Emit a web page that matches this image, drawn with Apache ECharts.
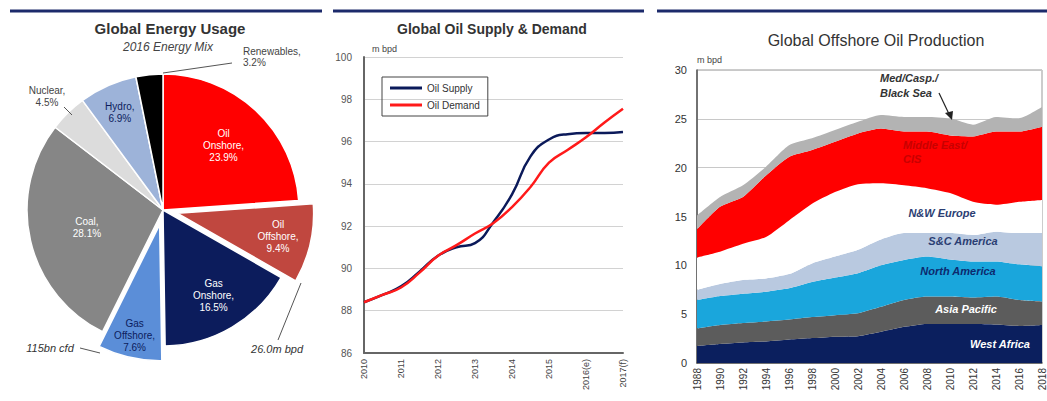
<!DOCTYPE html>
<html><head><meta charset="utf-8">
<script src="https://cdn.jsdelivr.net/npm/echarts@6/dist/echarts.min.js"></script>
<style>html,body{margin:0;padding:0;background:#fff}#c{width:1047px;height:401px}</style>
</head><body><div id="c"></div>
<script>
// ---------- Panel 1: Global Energy Usage (2016 energy mix, %) ----------
const mixNames  = ['Oil\nOnshore', 'Oil\nOffshore', 'Gas\nOnshore', 'Gas\nOffshore', 'Coal', 'Nuclear', 'Hydro', 'Renewables'];
const mixValues = [23.9, 9.4, 16.5, 7.6, 28.1, 4.5, 6.9, 3.2];
const mixExploded = ['Oil\nOffshore', 'Gas\nOffshore'];
const oilOffshoreNote = '26.0m bpd';
const gasOffshoreNote = '115bn cfd';

// ---------- Panel 2: Global Oil Supply & Demand (m bpd) ----------
const sdTickLabels = ['2010', '2011', '2012', '2013', '2014', '2015', '2016(e)', '2017(f)'];
const sdYears  = [2010, 2010.5, 2011, 2011.5, 2012, 2012.5, 2013, 2013.5, 2014, 2014.5, 2015, 2015.5, 2016, 2016.5, 2017];
const oilSupply = [88.4, 88.75, 89.15, 89.85, 90.6, 91.0, 91.2, 92.2, 93.5, 95.3, 96.1, 96.35, 96.4, 96.4, 96.45];
const oilDemand = [88.4, 88.75, 89.1, 89.8, 90.6, 91.1, 91.65, 92.15, 92.9, 93.85, 95.0, 95.6, 96.2, 96.9, 97.55];

// ---------- Panel 3: Global Offshore Oil Production (m bpd, stacked) ----------
const offYears = ['1988', '1990', '1992', '1994', '1996', '1998', '2000', '2002', '2004', '2006', '2008', '2010', '2012', '2014', '2016', '2018'];
const westAfrica   = [1.75, 1.95, 2.1, 2.2, 2.4, 2.55, 2.7, 2.75, 3.2, 3.7, 4.0, 4.0, 4.0, 3.95, 3.8, 3.9];
const asiaPacific  = [1.8, 1.95, 2.0, 2.05, 2.05, 2.15, 2.2, 2.35, 2.55, 2.75, 2.8, 2.8, 2.7, 2.85, 2.65, 2.4];
const northAmerica = [2.9, 2.95, 3.0, 3.05, 3.2, 3.6, 3.85, 4.1, 4.25, 4.1, 4.1, 3.8, 3.7, 3.6, 3.65, 3.6];
const scAmerica    = [1.05, 1.25, 1.4, 1.35, 1.45, 1.9, 2.15, 2.4, 2.65, 2.75, 2.4, 2.7, 2.7, 3.05, 3.2, 3.4];
const nwEurope     = [3.3, 3.3, 3.7, 4.25, 5.5, 6.1, 6.6, 6.7, 5.75, 4.9, 4.6, 4.1, 3.4, 2.75, 3.2, 3.4];
const middleEastCIS= [2.9, 4.6, 4.8, 6.3, 6.5, 5.5, 5.15, 5.2, 5.6, 5.5, 5.8, 5.9, 6.7, 7.5, 7.2, 7.5];
const medCaspBlack = [1.4, 1.0, 1.2, 0.9, 1.2, 1.2, 1.2, 1.2, 1.4, 1.5, 1.5, 1.75, 1.2, 1.5, 1.35, 2.0];
const offNames = ['West Africa', 'Asia Pacific', 'North America', 'S&C America', 'N&W Europe', 'Middle East/\nCIS', 'Med/Casp./\nBlack Sea'];

// ---------- styles ----------
const FONT = '"Liberation Sans", Arial, sans-serif';
const mixColors = ['#ff0000', '#c0473f', '#0c1c5c', '#5b8ed8', '#868686', '#dcdcdc', '#9db3d9', '#000000'];
const mixLabelColors = ['#fff', '#fff', '#fff', '#0c1c5c', '#fff', '#444', '#0c1c5c', '#000'];
const mixLabelPush = [1.25, 1.45, 1.4, 1.6, 1.1, 1, 1.5, 1];
const mixInsideLabel = [true, true, true, true, true, false, true, false];
const PIE_C = [163, 210], PIE_R = 136;
const offColors = ['#0b1f5e', '#5c5c5c', '#1aa6dc', '#b9c9e0', '#ffffff', '#ff0000', '#b3b3b3'];

const chart = echarts.init(document.getElementById('c'), null, {renderer: 'svg'});

const pieData = mixNames.map((n, i) => ({
  name: n, value: mixValues[i],
  selected: mixExploded.includes(n),
  itemStyle: {color: mixColors[i]},
  label: {show: mixInsideLabel[i], color: mixLabelColors[i]}
}));

function pair(xs, ys) { return xs.map((x, i) => [x, ys[i]]); }
const offSeriesData = [westAfrica, asiaPacific, northAmerica, scAmerica, nwEurope, middleEastCIS, medCaspBlack];

const txt = (x, y, text, opt) => ({type: 'text', x, y, z: 100, silent: true, style: Object.assign({
  text, fill: '#333', font: '10px ' + FONT, align: 'center', verticalAlign: 'middle'}, opt || {})});
const ln = (x1, y1, x2, y2, stroke, w) => ({type: 'line', z: 100, silent: true, shape: {x1, y1, x2, y2},
  style: {stroke: stroke || '#444', lineWidth: w || 1}});

const graphics = [
  ln(10, 11, 322, 11, '#1c2a6b', 3),
  ln(333, 11, 644, 11, '#1c2a6b', 3),
  ln(657, 11, 1047, 11, '#1c2a6b', 3),
  txt(170, 28, 'Global Energy Usage', {font: 'bold 15px ' + FONT, fill: '#333'}),
  txt(168, 47, '2016 Energy Mix', {font: 'italic 12px ' + FONT, fill: '#444'}),
  txt(492, 29, 'Global Oil Supply & Demand', {font: 'bold 14px ' + FONT, fill: '#333'}),
  txt(876, 40, 'Global Offshore Oil Production', {font: '16px ' + FONT, fill: '#333'}),
  txt(47, 96, mixNames[5] + ',\n' + mixValues[5] + '%', {font: '10px ' + FONT, fill: '#444', lineHeight: 12}),
  ln(64, 107, 72, 115, '#555', 1),
  txt(243, 57, mixNames[7] + ',\n' + mixValues[7] + '%', {font: '10px ' + FONT, fill: '#444', lineHeight: 11, align: 'left'}),
  ln(163, 73, 232, 63, '#555', 1),
  txt(50, 348, gasOffshoreNote, {font: 'italic 11px ' + FONT, fill: '#333'}),
  ln(80, 348, 100, 353, '#555', 1),
  txt(277, 349, oilOffshoreNote, {font: 'italic 11px ' + FONT, fill: '#333'}),
  ln(278, 340, 301, 283, '#555', 1),
  txt(1000, 344, offNames[0], {font: 'bold italic 11px ' + FONT, fill: '#fff'}),
  txt(966, 309, offNames[1], {font: 'bold italic 11px ' + FONT, fill: '#fff'}),
  txt(958, 271, offNames[2], {font: 'bold italic 11px ' + FONT, fill: '#0d2a6e'}),
  txt(963, 241, offNames[3], {font: 'bold italic 11px ' + FONT, fill: '#2b3e73'}),
  txt(942, 213, offNames[4], {font: 'bold italic 11px ' + FONT, fill: '#2b3e73'}),
  txt(903, 152, offNames[5], {font: 'bold italic 11px ' + FONT, fill: '#c80000', align: 'left', lineHeight: 14}),
  txt(880, 85, offNames[6], {font: 'bold italic 11px ' + FONT, fill: '#333', align: 'left', lineHeight: 15}),
  ln(939, 93, 949, 114, '#222', 1.2),
  {type: 'polygon', z: 100, silent: true, shape: {points: [[945, 113], [953, 111], [952, 120]]}, style: {fill: '#222'}}
];

const option = {
  animation: false,
  textStyle: {fontFamily: FONT},
  graphic: graphics,
  legend: {
    left: 382, top: 77, orient: 'vertical', padding: [6, 8, 6, 8], itemGap: 7,
    borderColor: '#444', borderWidth: 1, icon: 'rect', itemWidth: 32, itemHeight: 3,
    textStyle: {fontSize: 10, color: '#333', fontFamily: FONT},
    data: ['Oil Supply', 'Oil Demand']
  },
  grid: [
    {left: 364, right: 424, top: 57, bottom: 48},
    {left: 697, right: 4, top: 70, bottom: 38, show: true, borderColor: '#999', borderWidth: 1}
  ],
  xAxis: [
    {gridIndex: 0, type: 'value', min: 2010, max: 2017, interval: 1,
     axisLine: {lineStyle: {color: '#666', width: 2}}, axisTick: {show: false}, splitLine: {show: false},
     axisLabel: {rotate: 90, fontSize: 9, color: '#444', margin: 6,
       formatter: v => sdTickLabels[Math.round(v - 2010)] || ''}},
    {gridIndex: 1, type: 'category', boundaryGap: false, data: offYears,
     axisLine: {lineStyle: {color: '#555', width: 1.5}}, axisTick: {show: false}, splitLine: {show: false},
     axisLabel: {rotate: 90, fontSize: 10, color: '#333', margin: 5, interval: 0}}
  ],
  yAxis: [
    {gridIndex: 0, type: 'value', min: 86, max: 100, interval: 2, name: 'm bpd', nameGap: 4,
     nameTextStyle: {fontSize: 9, color: '#444', align: 'left', padding: [0, 0, 0, 8]},
     axisLine: {show: true, lineStyle: {color: '#666', width: 2}}, axisTick: {show: false},
     splitLine: {lineStyle: {color: '#d2d2d2'}},
     axisLabel: {fontSize: 10, color: '#555', margin: 12}},
    {gridIndex: 1, type: 'value', min: 0, max: 30, interval: 5, name: 'm bpd', nameGap: 6,
     nameTextStyle: {fontSize: 9, color: '#444', align: 'left', padding: [0, 0, 0, 0]},
     axisLine: {show: true, lineStyle: {color: '#555', width: 1.5}}, axisTick: {show: false},
     splitLine: {lineStyle: {color: '#c8c8c8'}},
     axisLabel: {fontSize: 11, color: '#333', margin: 10}}
  ],
  series: [
    {
      type: 'pie', center: PIE_C, radius: PIE_R, startAngle: 90, clockwise: true,
      selectedMode: 'multiple', selectedOffset: 15, avoidLabelOverlap: false,
      itemStyle: {borderColor: '#fff', borderWidth: 1.5},
      label: {position: 'inside', fontSize: 10, lineHeight: 12, fontFamily: FONT,
        formatter: p => p.name + ',\n' + p.value + '%'},
      labelLine: {show: false},
      emphasis: {disabled: true},
      labelLayout: function (p) {
        const k = mixLabelPush[p.dataIndex];
        const r = p.labelRect;
        const cx = r.x + r.width / 2, cy = r.y + r.height / 2;
        return {dx: (cx - PIE_C[0]) * (k - 1), dy: (cy - PIE_C[1]) * (k - 1)};
      },
      data: pieData
    },
    {name: 'Oil Supply', type: 'line', xAxisIndex: 0, yAxisIndex: 0, smooth: true, showSymbol: false,
     color: '#0b1a5a', lineStyle: {width: 2.5, color: '#0b1a5a'}, data: pair(sdYears, oilSupply)},
    {name: 'Oil Demand', type: 'line', xAxisIndex: 0, yAxisIndex: 0, smooth: true, showSymbol: false,
     color: '#ff1a1a', lineStyle: {width: 2.5, color: '#ff1a1a'}, data: pair(sdYears, oilDemand)}
  ].concat(offSeriesData.map((d, i) => ({
    name: offNames[i], type: 'line', xAxisIndex: 1, yAxisIndex: 1, stack: 'offshore',
    showSymbol: false, smooth: 0.2, lineStyle: {width: 0}, color: offColors[i],
    areaStyle: {color: offColors[i], opacity: 1}, data: d
  })))
};
chart.setOption(option);
</script>
</body></html>
